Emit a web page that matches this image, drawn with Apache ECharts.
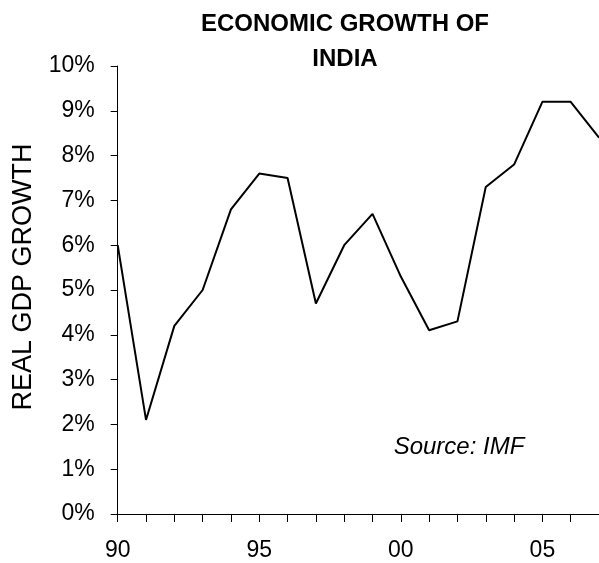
<!DOCTYPE html>
<html>
<head>
<meta charset="utf-8">
<script src="https://cdn.jsdelivr.net/npm/echarts@6/dist/echarts.min.js"></script>
<style>
html,body{margin:0;padding:0;background:#fff;}
#chart{width:599px;height:563px;}
</style>
</head>
<body>
<div id="chart"></div>
<script>
const years = ['90','91','92','93','94','95','96','97','98','99','00','01','02','03','04','05','06','07'];
const growth = [6.0, 2.1, 4.2, 5.0, 6.8, 7.6, 7.5, 4.7, 6.0, 6.7, 5.3, 4.1, 4.3, 7.3, 7.8, 9.2, 9.2, 8.4];
const yTicks = [0,1,2,3,4,5,6,7,8,9,10];
const titleLines = ['ECONOMIC GROWTH OF', 'INDIA'];
const yAxisName = 'REAL GDP GROWTH';
const sourceNote = 'Source: IMF';

const FONT = '"Liberation Sans", Arial, sans-serif';
const chart = echarts.init(document.getElementById('chart'), null, {renderer: 'canvas'});
chart.setOption({
  animation: false,
  backgroundColor: '#ffffff',
  title: {
    text: titleLines.join('\n'),
    left: 340, top: 2, textAlign: 'center',
    textStyle: {fontFamily: FONT, fontWeight: 'bold', fontSize: 24, color: '#000', lineHeight: 35}
  },
  grid: {left: 117.7, top: 66, width: 488.75, height: 448},
  xAxis: {
    type: 'category',
    data: years,
    boundaryGap: false,
    axisLine: {lineStyle: {color: '#000', width: 1}},
    axisTick: {show: true, inside: false, length: 8, interval: 0, lineStyle: {color: '#000'}},
    axisLabel: {interval: 4, margin: 25, color: '#000', fontFamily: FONT, fontSize: 23},
    splitLine: {show: false}
  },
  yAxis: {
    type: 'value',
    min: yTicks[0], max: yTicks[yTicks.length - 1], interval: 1,
    axisLine: {show: true, lineStyle: {color: '#000', width: 1}},
    axisTick: {show: true, inside: false, length: 7, lineStyle: {color: '#000'}},
    axisLabel: {margin: 23, color: '#000', fontFamily: FONT, fontSize: 23, formatter: v => v + '%'},
    splitLine: {show: false}
  },
  graphic: [
    {type: 'text', x: 24, y: 277, rotation: Math.PI / 2,
     style: {text: yAxisName, fontFamily: FONT, fontSize: 27, fill: '#000', align: 'center', verticalAlign: 'middle'}},
    {type: 'text', x: 459, y: 447,
     style: {text: sourceNote, fontFamily: FONT, fontSize: 24, fontStyle: 'italic', fill: '#000', align: 'center', verticalAlign: 'middle'}}
  ],
  series: [{
    type: 'line',
    data: growth,
    showSymbol: false,
    symbol: 'none',
    lineStyle: {color: '#000', width: 2},
    clip: false
  }]
});
</script>
</body>
</html>
